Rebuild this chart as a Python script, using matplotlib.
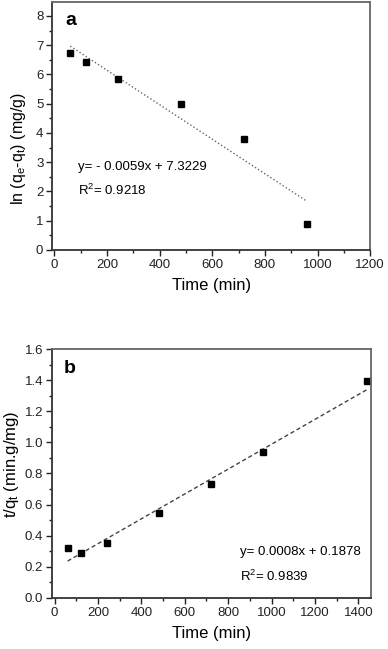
import numpy as np
import matplotlib.pyplot as plt
from matplotlib.ticker import MultipleLocator

plt.rcParams['font.family'] = ['Liberation Sans', 'DejaVu Sans']
plt.rcParams['mathtext.default'] = 'regular'

# panel a: pseudo-first-order
time_a = [60, 120, 240, 480, 720, 960]
lnq_a = [6.75, 6.42, 5.83, 5.0, 3.8, 0.88]
slope_a, icpt_a = -0.0059, 7.3229

# panel b: pseudo-second-order
time_b = [60, 120, 240, 480, 720, 960, 1440]
tq_b = [0.32, 0.285, 0.35, 0.545, 0.73, 0.935, 1.395]
slope_b, icpt_b = 0.0008, 0.1878

fig = plt.figure(figsize=(3.88, 6.49), dpi=100)
ax1 = fig.add_axes([0.135, 0.615, 0.819, 0.382])
ax2 = fig.add_axes([0.135, 0.079, 0.822, 0.383])


def style(ax):
    ax.tick_params(which='both', direction='out', top=False, right=False,
                   labelsize=9.5, colors='#222222', pad=2.5)
    ax.tick_params(which='major', length=4, width=1)
    ax.tick_params(which='minor', length=2.5, width=1)
    for s in ['top', 'right']:
        ax.spines[s].set_color('#666666')
        ax.spines[s].set_linewidth(1.3)
    for s in ['bottom', 'left']:
        ax.spines[s].set_color('#333333')
        ax.spines[s].set_linewidth(1.3)


xa = np.array([time_a[0], time_a[-1]])
ax1.plot(xa, slope_a * xa + icpt_a, ':', color='#666666', lw=1)
ax1.plot(time_a, lnq_a, 's', color='black', ms=4.5)
ax1.set_xlim(-8, 1200)
ax1.set_ylim(0, 8.48)
ax1.xaxis.set_major_locator(MultipleLocator(200))
ax1.xaxis.set_minor_locator(MultipleLocator(100))
ax1.yaxis.set_major_locator(MultipleLocator(1))
ax1.yaxis.set_minor_locator(MultipleLocator(0.5))
style(ax1)
ax1.set_xlabel('Time (min)', fontsize=12, labelpad=5)
ax1.set_ylabel('ln (q$_{e}$-q$_{t}$) (mg/g)', fontsize=11.5)
ax1.yaxis.set_label_coords(-0.078, 0.41)
ax1.text(0.04, 0.907, 'a', transform=ax1.transAxes, fontsize=14, fontweight='bold')
ax1.text(0.08, 0.335, 'y= - 0.0059x + 7.3229', transform=ax1.transAxes, fontsize=9.5, va='center')
ax1.text(0.08, 0.238, 'R$^{2}$= 0.9218', transform=ax1.transAxes, fontsize=9.5, va='center')

xb = np.array([time_b[0], time_b[-1]])
ax2.plot(xb, slope_b * xb + icpt_b, '--', color='#444444', lw=1, dashes=(3, 2))
ax2.plot(time_b, tq_b, 's', color='black', ms=4.5)
ax2.set_xlim(-10, 1460)
ax2.set_ylim(0, 1.6)
ax2.xaxis.set_major_locator(MultipleLocator(200))
ax2.xaxis.set_minor_locator(MultipleLocator(100))
ax2.yaxis.set_major_locator(MultipleLocator(0.2))
ax2.yaxis.set_minor_locator(MultipleLocator(0.1))
ax2.yaxis.set_major_formatter(plt.FormatStrFormatter('%.1f'))
style(ax2)
ax2.set_xlabel('Time (min)', fontsize=12, labelpad=5)
ax2.set_ylabel('t/q$_{t}$ (min.g/mg)', fontsize=12)
ax2.yaxis.set_label_coords(-0.098, 0.536)
ax2.text(0.037, 0.906, 'b', transform=ax2.transAxes, fontsize=14, fontweight='bold')
ax2.text(0.587, 0.183, 'y= 0.0008x + 0.1878', transform=ax2.transAxes, fontsize=9.5, va='center')
ax2.text(0.587, 0.085, 'R$^{2}$= 0.9839', transform=ax2.transAxes, fontsize=9.5, va='center')

fig.savefig('out.png', dpi=100)
